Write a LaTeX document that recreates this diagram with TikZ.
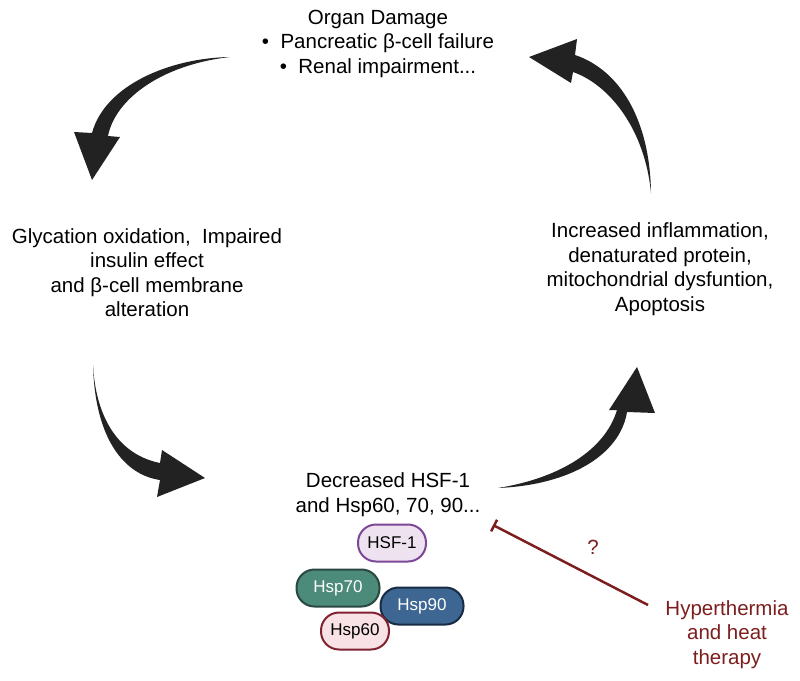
\documentclass[tikz,border=0pt]{standalone}
\usepackage{fontspec}
\setmainfont{Liberation Sans}
\usetikzlibrary{arrows.meta}
\definecolor{arrowc}{RGB}{34,34,34}
\definecolor{inhc}{RGB}{125,30,30}
\definecolor{hsffill}{RGB}{238,225,240}
\definecolor{hsfdraw}{RGB}{125,70,150}
\definecolor{h70fill}{RGB}{76,138,122}
\definecolor{h70draw}{RGB}{40,72,64}
\definecolor{h90fill}{RGB}{61,103,146}
\definecolor{h90draw}{RGB}{24,42,68}
\definecolor{h60fill}{RGB}{248,226,229}
\definecolor{h60draw}{RGB}{128,34,48}
\tikzset{
  txt/.style={font=\fontsize{20.5}{24.5}\selectfont, align=center, inner sep=0pt, text=black},
  redtxt/.style={txt, text=inhc},
  prot/.style={font=\fontsize{17}{20}\selectfont, draw, line width=2pt, rounded corners=18pt, inner sep=0pt},
  bigarrow/.style={fill=arrowc, draw=none},
}
\begin{document}
\begin{tikzpicture}[x=1pt,y=-1pt]
\useasboundingbox (0,0) rectangle (800,680);
% text blocks
\node[txt] (top) at (378,43.5) {Organ Damage\\\textbullet\ \ Pancreatic β-cell failure\\\textbullet\ \ Renal impairment...};
\node[txt] (left) at (147,272.5) {Glycation oxidation,\ \ Impaired\\insulin effect\\and β-cell membrane\\alteration};
\node[txt] (right) at (660,269) {Increased inflammation,\\denaturated protein,\\mitochondrial dysfuntion,\\Apoptosis};
\node[txt] (bottom) at (388,494.5) {Decreased HSF-1\\and Hsp60, 70, 90...};
\node[redtxt] (hyper) at (727,634.5) {Hyperthermia\\and heat\\therapy};
\node[redtxt] (q) at (593,547) {?};
% proteins
\node[prot, draw=hsfdraw, fill=hsffill, minimum width=68pt, minimum height=37pt] (hsf) at (392,543) {HSF-1};
\node[prot, draw=h70draw, fill=h70fill, text=white, minimum width=83pt, minimum height=37pt] (h70) at (338,588) {Hsp70};
\node[prot, draw=h90draw, fill=h90fill, text=white, minimum width=83pt, minimum height=37pt] (h90) at (422,606) {Hsp90};
\node[prot, draw=h60draw, fill=h60fill, minimum width=68pt, minimum height=37pt] (h60) at (355,631) {Hsp60};
% inhibition
\coordinate (hstart) at (648,605);
\coordinate (inh) at (493,525);
\draw[inhc, line width=2.5pt, -{Bar[width=13pt,line width=2.5pt]}] (hstart) -- (inh);
% big curved arrows
\fill[bigarrow] (230,57) .. controls (170,58) and (105,85) .. (92,133)
  -- (74,132) -- (92,180) -- (120,137) -- (108,136)
  .. controls (115,100) and (160,65) .. (230,57) -- cycle;
\fill[bigarrow] (651,193) .. controls (650,120) and (620,70) .. (575,55)
  -- (577,39) -- (529,57) -- (571,83) -- (573,72)
  .. controls (610,85) and (645,130) .. (651,193) -- cycle;
\fill[bigarrow] (93,365) .. controls (95,440) and (125,475) .. (160,480)
  -- (157,497) -- (205,478) -- (162,450) -- (160,463)
  .. controls (120,455) and (96,420) .. (93,365) -- cycle;
\fill[bigarrow] (498,488) .. controls (570,485) and (620,455) .. (627,412)
  -- (655,413) -- (637,367) -- (609,410) -- (617,410)
  .. controls (605,450) and (560,478) .. (498,488) -- cycle;
\end{tikzpicture}
\end{document}
